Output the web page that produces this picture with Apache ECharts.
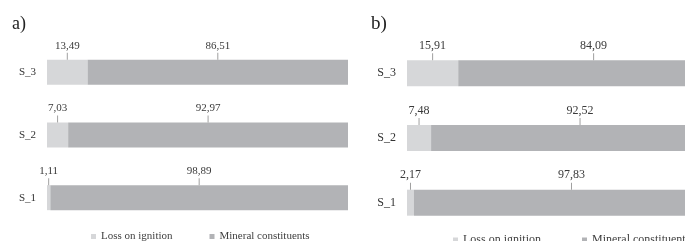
<!DOCTYPE html>
<html>
<head>
<meta charset="utf-8">
<script src="https://cdn.jsdelivr.net/npm/echarts@6/dist/echarts.min.js"></script>
<style>
  html, body { margin: 0; padding: 0; background: #fff; }
  #chart { width: 685px; height: 241px; }
</style>
</head>
<body>
<div id="chart"></div>
<script>
const categories = ['S_1', 'S_2', 'S_3'];
const seriesNames = ['Loss on ignition', 'Mineral constituents'];
const lossA = [1.11, 7.03, 13.49];
const mineralA = [98.89, 92.97, 86.51];
const lossB = [2.17, 7.48, 15.91];
const mineralB = [97.83, 92.52, 84.09];

const FONT = 'Liberation Serif';
const colors = ['#d6d7d9', '#b2b3b6'];

function fmt(p) {
  return '{v|' + p.value.toFixed(2).replace('.', ',') + '}\n{t|}';
}

function barLabel(size) {
  return {
    show: true,
    position: 'top',
    distance: 0,
    formatter: fmt,
    rich: {
      v: { fontFamily: FONT, fontSize: size, color: '#3a3a3a', lineHeight: size + 3 },
      t: { width: 1, height: 7, lineHeight: 7, backgroundColor: '#a0a0a0' }
    }
  };
}

function bars(idx, loss, mineral, size, bw) {
  return [
    { name: seriesNames[0], type: 'bar', stack: 's' + idx, xAxisIndex: idx, yAxisIndex: idx,
      data: loss, barWidth: bw, itemStyle: { color: colors[0] }, label: barLabel(size) },
    { name: seriesNames[1], type: 'bar', stack: 's' + idx, xAxisIndex: idx, yAxisIndex: idx,
      data: mineral, barWidth: bw, itemStyle: { color: colors[1] }, label: barLabel(size) }
  ];
}

function yAx(idx, size) {
  return {
    type: 'category', gridIndex: idx, data: categories,
    axisLine: { show: false }, axisTick: { show: false },
    axisLabel: { fontFamily: FONT, fontSize: size, color: '#333', margin: 11 }
  };
}

const chart = echarts.init(document.getElementById('chart'), null, { renderer: 'canvas' });
chart.setOption({
  animation: false,
  color: colors,
  title: [
    { text: 'a)', left: 7, top: 10, textStyle: { fontFamily: FONT, fontSize: 18, fontWeight: 'normal', color: '#222' } },
    { text: 'b)', left: 366, top: 10, textStyle: { fontFamily: FONT, fontSize: 19, fontWeight: 'normal', color: '#222' } }
  ],
  grid: [
    { left: 47, width: 301, top: 41, height: 188, outerBoundsMode: 'none' },
    { left: 407, width: 322, top: 41, height: 194, outerBoundsMode: 'none' }
  ],
  xAxis: [
    { type: 'value', gridIndex: 0, min: 0, max: 100, show: false },
    { type: 'value', gridIndex: 1, min: 0, max: 100, show: false }
  ],
  yAxis: [yAx(0, 11), yAx(1, 12)],
  legend: [
    { data: seriesNames, left: 91, top: 231, padding: 0, itemWidth: 5, itemHeight: 5, itemGap: 37, icon: 'rect',
      textStyle: { fontFamily: FONT, fontSize: 11, color: '#404040' } },
    { data: seriesNames, left: 453, top: 234, width: 400, padding: 0, itemWidth: 5, itemHeight: 5, itemGap: 41, icon: 'rect',
      textStyle: { fontFamily: FONT, fontSize: 12, color: '#404040' } }
  ],
  series: bars(0, lossA, mineralA, 11, 25).concat(bars(1, lossB, mineralB, 12, 26))
});
</script>
</body>
</html>
